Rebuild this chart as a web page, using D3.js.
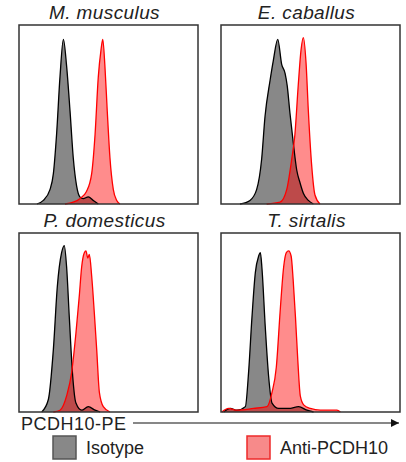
<!DOCTYPE html>
<html>
<head>
<meta charset="utf-8">
<script src="https://cdn.jsdelivr.net/npm/d3@7"></script>
<style>
  body { margin: 0; background: #fff; }
  svg { display: block; font-family: "Liberation Sans", Arial, sans-serif; }
</style>
</head>
<body>
<svg id="chart" width="406" height="462"></svg>
<script>
// species shown in each panel
var species = ["M. musculus", "E. caballus", "P. domesticus", "T. sirtalis"];
var seriesNames = ["Isotype", "Anti-PCDH10"];
var axisLabel = "PCDH10-PE";

// histograms: [fluorescence (0-100), % of max]
var isotype = [
  [[10,0],[13.6,2],[17.3,8],[19.2,17],[21,39],[22.9,71],[24.8,92],[26.6,77],[28.5,52],[30.3,26],[32.2,10],[34,4],[35.9,3],[38.7,4],[41.5,2],[44.3,0]],
  [[10.6,0],[16.2,2],[19.9,8],[22.7,25],[24.6,49],[27.4,69],[29.2,80],[31.7,92],[33.9,78],[35.8,73],[37,66],[38.5,51],[40.4,34],[42.3,19],[44.1,12],[46,6],[48.8,2],[51.6,0]],
  [[12.7,0],[16.4,7],[19.2,35],[21.4,70],[23.8,89],[25.3,93],[26.6,81],[28.1,53],[30,20],[31.8,5],[35,1],[38.7,3],[42.5,1],[45.3,0]],
  [[1.5,0],[5.2,2],[8.9,1],[13.6,3],[15.4,22],[17.3,53],[19.2,78],[21,87],[22,89],[22.9,80],[24.7,48],[26.6,20],[28.5,5],[32.2,2],[37.8,2],[43.4,3],[48,1],[51.7,0]]
];
var antiPcdh10 = [
  [[25.7,0],[30.3,1],[34,3],[37.7,7],[40.6,17],[42.5,39],[44.3,71],[45.8,86],[46.8,92],[48,77],[49.3,52],[50.8,26],[52.7,8],[54.6,2],[56.4,0]],
  [[25.5,0],[33,1],[36.7,8],[39.5,25],[41.3,39],[43.2,67],[44.7,86],[46,93],[47.5,79],[48.8,52],[50.7,21],[52.5,5],[55.3,0]],
  [[19.2,0],[22.9,1],[26.6,9],[29.4,22],[31.8,44],[33.7,65],[35,81],[36.5,89],[37.4,90],[38.4,86],[39.3,88],[40.6,76],[42.1,55],[43.4,35],[44.9,11],[47.1,3],[50.8,0]],
  [[0.5,0],[4.2,2],[8.9,1],[18.2,2],[25.7,3],[28.5,11],[30.9,25],[33.1,57],[35,81],[36.5,89],[37.8,90],[39.2,87],[40.3,74],[41.6,53],[42.9,29],[44.3,9],[46.2,4],[49.9,2],[55.5,1],[61.1,1],[64.8,1],[66.7,0]]
];

var svg = d3.select("#chart");

var panelW = 179, panelH = 179;
var origins = [[19, 25], [221, 25], [19, 233], [221, 233]];

var x = d3.scaleLinear().domain([0, 100]).range([0, panelW]);
var y = d3.scaleLinear().domain([0, 100]).range([panelH, 0]);

var area = d3.area()
    .x(function(d) { return x(d[0]); })
    .y0(panelH)
    .y1(function(d) { return y(d[1]); })
    .curve(d3.curveMonotoneX);

var line = d3.line()
    .x(function(d) { return x(d[0]); })
    .y(function(d) { return y(d[1]); })
    .curve(d3.curveMonotoneX);

var grayFill = "#888888", redFill = "rgba(255,0,0,0.45)";

species.forEach(function(name, i) {
  var g = svg.append("g")
      .attr("transform", "translate(" + origins[i][0] + "," + origins[i][1] + ")");

  g.append("text")
      .attr("x", panelW / 2 - 4)
      .attr("y", -6)
      .attr("text-anchor", "middle")
      .attr("font-size", 19)
      .attr("letter-spacing", 0.4)
      .attr("font-style", "italic")
      .attr("fill", "#222")
      .text(name);

  g.append("path").datum(isotype[i]).attr("d", area).attr("fill", grayFill);
  g.append("path").datum(antiPcdh10[i]).attr("d", area).attr("fill", redFill);
  g.append("path").datum(isotype[i]).attr("d", line)
      .attr("fill", "none").attr("stroke", "#000").attr("stroke-width", 1.3);
  g.append("path").datum(antiPcdh10[i]).attr("d", line)
      .attr("fill", "none").attr("stroke", "#ff0000").attr("stroke-width", 1.3);

  g.append("rect")
      .attr("width", panelW)
      .attr("height", panelH)
      .attr("fill", "none")
      .attr("stroke", "#333")
      .attr("stroke-width", 1.5);
});

// x axis label with arrow
svg.append("defs").append("marker")
    .attr("id", "arrow")
    .attr("viewBox", "0 0 10 10")
    .attr("refX", 10).attr("refY", 5)
    .attr("markerWidth", 10).attr("markerHeight", 8)
    .attr("markerUnits", "userSpaceOnUse")
    .attr("orient", "auto")
  .append("path")
    .attr("d", "M0,0L10,5L0,10Z")
    .attr("fill", "#111");

svg.append("text")
    .attr("x", 21)
    .attr("y", 430)
    .attr("font-size", 18)
    .attr("letter-spacing", 0.5)
    .attr("fill", "#222")
    .text(axisLabel);

svg.append("line")
    .attr("x1", 133).attr("x2", 399)
    .attr("y1", 423).attr("y2", 423)
    .attr("stroke", "#111")
    .attr("stroke-width", 1.2)
    .attr("marker-end", "url(#arrow)");

// legend
var legendX = [53, 247];
var legendFill = ["#888888", "#f78a8a"];
var legendStroke = ["#555555", "#ee2a2a"];

var legend = svg.append("g")
  .selectAll("g")
  .data(seriesNames)
  .enter().append("g")
    .attr("transform", function(d, i) { return "translate(" + legendX[i] + ",436)"; });

legend.append("rect")
    .attr("width", 23)
    .attr("height", 23)
    .attr("fill", function(d, i) { return legendFill[i]; })
    .attr("stroke", function(d, i) { return legendStroke[i]; })
    .attr("stroke-width", 1.5);

legend.append("text")
    .attr("x", 33)
    .attr("y", 18)
    .attr("font-size", 18)
    .attr("fill", "#222")
    .text(function(d) { return d; });
</script>
</body>
</html>
